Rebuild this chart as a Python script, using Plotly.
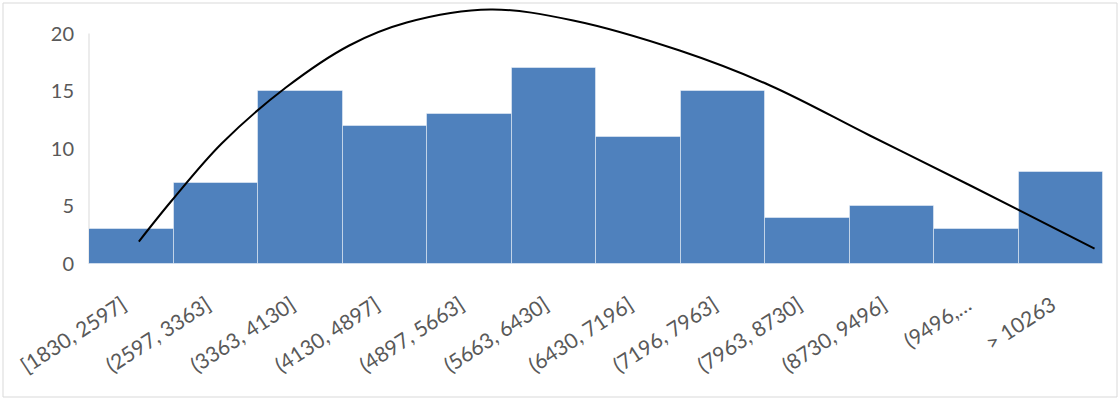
import plotly.graph_objects as go

# Histogram bins (salary ranges) and their counts
bins = ["[1830, 2597]", "(2597, 3363]", "(3363, 4130]", "(4130, 4897]",
        "(4897, 5663]", "(5663, 6430]", "(6430, 7196]", "(7196, 7963]",
        "(7963, 8730]", "(8730, 9496]", "(9496,…", "> 10263"]
counts = [3, 7, 15, 12, 13, 17, 11, 15, 4, 5, 3, 8]

# Fitted distribution curve, sampled along the bin index axis
curve_x = [0.09, 0.48, 1.07, 1.83, 2.58, 3.26, 4.25, 5.23, 6.49, 7.56,
           8.74, 9.93, 11.40]
curve_y = [1.95, 5.51, 10.46, 15.31, 18.96, 20.95, 22.08, 21.13, 18.52,
           15.49, 11.15, 6.81, 1.34]

y_ticks = [0, 5, 10, 15, 20]

FONT = "Lato"
GREY_TEXT = "#595959"
AXIS_GREY = "#D9D9D9"

# pixel geometry of the plotting area
FIG_W, FIG_H = 1119, 401
M_L, M_R, M_T, M_B = 89, 16, 2, 137
PX_PER_UNIT = 11.525
y_top = (FIG_H - M_T - M_B) / PX_PER_UNIT   # room above 20 for the curve peak
plot_h = FIG_H - M_T - M_B
plot_w = FIG_W - M_L - M_R

fig = go.Figure()

fig.add_trace(go.Bar(
    x=list(range(len(bins))),
    y=counts,
    width=1.0,
    marker=dict(color="#4F81BD", line=dict(color="rgba(255,255,255,0.45)", width=1)),
    showlegend=False,
    hoverinfo="x+y",
))

fig.add_trace(go.Scatter(
    x=curve_x,
    y=curve_y,
    mode="lines",
    line=dict(color="black", width=2, shape="spline", smoothing=1.0),
    showlegend=False,
    hoverinfo="skip",
))

# outer chart frame, in paper units relative to the plotting area
frame_x0 = (3 - M_L) / plot_w
frame_x1 = (1117 - M_L) / plot_w
frame_y0 = -(397 - (FIG_H - M_B)) / plot_h
frame_y1 = 1 + (M_T - 3) / plot_h

fig.update_layout(
    width=FIG_W,
    height=FIG_H,
    margin=dict(l=M_L, r=M_R, t=M_T, b=M_B),
    paper_bgcolor="white",
    plot_bgcolor="white",
    bargap=0,
    font=dict(family=FONT, color=GREY_TEXT, size=20),
    xaxis=dict(
        range=[-0.5, 11.5],
        tickmode="array",
        tickvals=list(range(len(bins))),
        ticktext=bins,
        tickangle=-33,
        showgrid=False,
        zeroline=False,
        showline=False,
        ticks="",
        ticklabelstandoff=24,
        ticklabelshift=-9,
        tickfont=dict(family=FONT, size=21, color=GREY_TEXT),
        fixedrange=True,
    ),
    yaxis=dict(
        range=[0, y_top],
        tickmode="array",
        tickvals=y_ticks,
        showgrid=False,
        zeroline=False,
        showline=False,
        ticks="",
        ticklabelstandoff=14,
        tickfont=dict(family=FONT, size=20, color=GREY_TEXT),
        fixedrange=True,
    ),
    shapes=[
        dict(type="rect", xref="paper", yref="paper",
             x0=frame_x0, x1=frame_x1, y0=frame_y0, y1=frame_y1,
             line=dict(color=AXIS_GREY, width=1), fillcolor="rgba(0,0,0,0)",
             layer="below"),
        # vertical value axis line, spanning 0..20 only
        dict(type="line", xref="paper", yref="y",
             x0=0, x1=0, y0=0, y1=max(y_ticks),
             line=dict(color=AXIS_GREY, width=1), layer="below"),
    ],
)

fig.write_html("out.html")
